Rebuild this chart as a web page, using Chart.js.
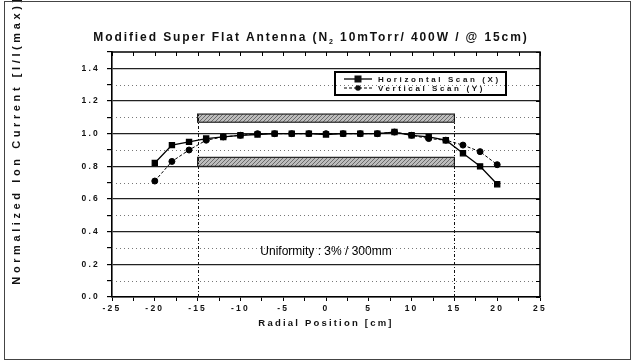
<!DOCTYPE html>
<html>
<head>
<meta charset="utf-8">
<script src="https://cdn.jsdelivr.net/npm/chart.js@4.4.1/dist/chart.umd.min.js"></script>
<style>
  html, body { margin: 0; padding: 0; background: #fff; }
  #wrap { width: 632px; height: 361px; position: relative; }
</style>
</head>
<body>
<div id="wrap"><canvas id="profileChart"></canvas></div>
<script>
// Radial positions of the probe [cm]
const radialPos = [-20, -18, -16, -14, -12, -10, -8, -6, -4, -2, 0, 2, 4, 6, 8, 10, 12, 14, 16, 18, 20];

// Normalized ion current I/I(max)
const horizontalScan = [0.82, 0.93, 0.95, 0.97, 0.98, 0.99, 0.995, 1.0, 1.0, 1.0, 0.995, 1.0, 1.0, 1.0, 1.01, 0.99, 0.98, 0.96, 0.88, 0.80, 0.69];
const verticalScan   = [0.71, 0.83, 0.90, 0.96, 0.98, 0.99, 1.0, 1.0, 1.0, 1.0, 1.0, 1.0, 1.0, 1.0, 1.01, 0.99, 0.97, 0.96, 0.93, 0.89, 0.81];

// Shaded bands and marker lines (wafer edge at +/-15 cm)
const bandX     = [-15, 15];
const upperBand = [1.07, 1.12];
const lowerBand = [0.80, 0.855];
const edgeLines = [-15, 15];

const seriesLabels = ['Horizontal Scan (X)', 'Vertical Scan (Y)'];
const titleParts   = ['Modified Super Flat Antenna (N', '2', ' 10mTorr/ 400W / @ 15cm)'];
const xTitle       = 'Radial Position [cm]';
const yTitle       = 'Normalized Ion Current [I/I(max)]';
const noteText     = 'Uniformity : 3% / 300mm';
const notePos      = [0, 0.28];

const FONT = 'Arial, "Liberation Sans", sans-serif';

function isMajorY(v) {
  return Math.round(v * 10) % 2 === 0;
}

/**
 * decor — grid dots, bands, edge lines, legend box and text.
 */
const decor = {
  id: 'decor',
  beforeDraw(chart) {
    const ctx = chart.ctx;
    ctx.save();
    ctx.fillStyle = '#fff';
    ctx.fillRect(0, 0, chart.width, chart.height);
    ctx.restore();
    ctx.letterSpacing = '2.2px';
  },
  beforeDatasetsDraw(chart) {
    const { ctx, chartArea: a, scales: { x, y } } = chart;
    ctx.save();

    // minor dotted grid
    ctx.strokeStyle = '#777';
    ctx.lineWidth = 1;
    ctx.setLineDash([1, 3]);
    y.ticks.forEach(t => {
      if (isMajorY(t.value) || t.value >= y.max) return;
      const py = Math.round(y.getPixelForValue(t.value)) + 0.5;
      ctx.beginPath();
      ctx.moveTo(a.left, py);
      ctx.lineTo(a.right, py);
      ctx.stroke();
    });

    // hatched bands
    const pc = document.createElement('canvas');
    pc.width = 4; pc.height = 4;
    const p = pc.getContext('2d');
    p.fillStyle = '#bdbdbd'; p.fillRect(0, 0, 4, 4);
    p.fillStyle = '#6a6a6a';
    p.fillRect(0, 0, 1, 1); p.fillRect(2, 2, 1, 1); p.fillRect(1, 3, 1, 1); p.fillRect(3, 1, 1, 1);
    const pattern = ctx.createPattern(pc, 'repeat');
    ctx.setLineDash([]);
    [upperBand, lowerBand].forEach(b => {
      const x0 = x.getPixelForValue(bandX[0]);
      const x1 = x.getPixelForValue(bandX[1]);
      const y0 = y.getPixelForValue(b[1]);
      const y1 = y.getPixelForValue(b[0]);
      ctx.fillStyle = pattern;
      ctx.fillRect(x0, y0, x1 - x0, y1 - y0);
      ctx.strokeStyle = '#222';
      ctx.lineWidth = 1.2;
      ctx.strokeRect(x0, y0, x1 - x0, y1 - y0);
    });

    // dashed edge lines
    ctx.strokeStyle = '#111';
    ctx.lineWidth = 1;
    ctx.setLineDash([3, 2, 1, 2]);
    edgeLines.forEach(v => {
      const px = Math.round(x.getPixelForValue(v)) + 0.5;
      ctx.beginPath();
      ctx.moveTo(px, a.bottom);
      ctx.lineTo(px, y.getPixelForValue(upperBand[1]));
      ctx.stroke();
    });
    ctx.restore();
  },
  afterDraw(chart) {
    const { ctx, chartArea: a, scales: { x, y } } = chart;
    ctx.save();

    // top / right frame with inward ticks
    ctx.setLineDash([]);
    ctx.strokeStyle = '#000';
    ctx.lineWidth = 1.6;
    ctx.beginPath();
    ctx.moveTo(a.left, a.top); ctx.lineTo(a.right, a.top); ctx.lineTo(a.right, a.bottom);
    ctx.stroke();
    ctx.lineWidth = 1;
    x.ticks.forEach(t => {
      const px = Math.round(x.getPixelForValue(t.value)) + 0.5;
      ctx.beginPath(); ctx.moveTo(px, a.top); ctx.lineTo(px, a.top + 4); ctx.stroke();
    });
    y.ticks.forEach(t => {
      const py = Math.round(y.getPixelForValue(t.value)) + 0.5;
      ctx.beginPath(); ctx.moveTo(a.right, py); ctx.lineTo(a.right - 4, py); ctx.stroke();
    });

    ctx.fillStyle = '#111';
    ctx.textBaseline = 'alphabetic';

    // chart title with subscript
    ctx.letterSpacing = '1.9px';
    const big = 'bold 12px ' + FONT;
    const sub = 'bold 7px ' + FONT;
    ctx.font = big;
    const w0 = ctx.measureText(titleParts[0]).width;
    const w2 = ctx.measureText(titleParts[2]).width;
    ctx.font = sub;
    const w1 = ctx.measureText(titleParts[1]).width;
    let tx = 311 - (w0 + w1 + w2) / 2;
    const ty = 41;
    ctx.textAlign = 'left';
    ctx.font = big;
    ctx.fillText(titleParts[0], tx, ty); tx += w0;
    ctx.font = sub;
    ctx.fillText(titleParts[1], tx, ty + 3); tx += w1;
    ctx.font = big;
    ctx.fillText(titleParts[2], tx, ty);

    // y axis title
    ctx.save();
    ctx.translate(20, 140);
    ctx.rotate(-Math.PI / 2);
    ctx.textAlign = 'center';
    ctx.letterSpacing = '3.6px';
    ctx.font = 'bold 11px ' + FONT;
    ctx.fillText(yTitle, 0, 0);
    ctx.restore();

    // annotation
    ctx.letterSpacing = '0px';
    ctx.fillStyle = '#000';
    ctx.font = '12px ' + FONT;
    ctx.textAlign = 'center';
    ctx.textBaseline = 'middle';
    ctx.fillText(noteText, x.getPixelForValue(notePos[0]), y.getPixelForValue(notePos[1]));

    // legend box
    const lx = a.left + 223, ly = a.top + 20, lw = 171, lh = 23;
    ctx.strokeStyle = '#000';
    ctx.lineWidth = 2;
    ctx.strokeRect(lx, ly, lw, lh);
    ctx.letterSpacing = '2.6px';
    ctx.font = 'bold 8px ' + FONT;
    ctx.textAlign = 'left';
    ctx.fillStyle = '#111';
    chart.data.datasets.forEach((ds, i) => {
      const ry = ly + 7 + i * 9;
      ctx.strokeStyle = '#000';
      ctx.lineWidth = ds.borderWidth;
      ctx.setLineDash(ds.borderDash || []);
      ctx.beginPath(); ctx.moveTo(lx + 9, ry); ctx.lineTo(lx + 37, ry); ctx.stroke();
      ctx.setLineDash([]);
      if (ds.pointStyle === 'rect') {
        ctx.fillRect(lx + 23 - 3.5, ry - 3.5, 7, 7);
      } else {
        ctx.beginPath(); ctx.arc(lx + 23, ry, 2.8, 0, Math.PI * 2); ctx.fill();
      }
      ctx.fillText(ds.label, lx + 43, ry + 0.5);
    });

    // outer frame of the figure
    ctx.strokeStyle = '#444';
    ctx.lineWidth = 1;
    ctx.strokeRect(4.5, 1.5, 626, 358);
    ctx.restore();
  }
};

const ctx = document.getElementById('profileChart').getContext('2d');

new Chart(ctx, {
  type: 'line',
  data: {
    labels: radialPos,
    datasets: [
      {
        label: seriesLabels[0],
        data: radialPos.map((r, i) => ({ x: r, y: horizontalScan[i] })),
        borderColor: '#000',
        backgroundColor: '#000',
        borderWidth: 1.3,
        pointStyle: 'rect',
        pointRadius: 3.6,
        tension: 0
      },
      {
        label: seriesLabels[1],
        data: radialPos.map((r, i) => ({ x: r, y: verticalScan[i] })),
        borderColor: '#000',
        backgroundColor: '#000',
        borderWidth: 1,
        borderDash: [3, 2],
        pointStyle: 'circle',
        pointRadius: 3,
        tension: 0
      }
    ]
  },
  plugins: [decor],
  options: {
    responsive: true,
    maintainAspectRatio: false,
    animation: false,
    devicePixelRatio: 1,
    layout: { padding: { top: 52, left: 0, right: 92, bottom: 28 } },
    plugins: {
      legend: { display: false },
      tooltip: { enabled: false },
      title: { display: false }
    },
    scales: {
      x: {
        type: 'linear',
        min: -25,
        max: 25,
        afterFit: s => { s.height = 36; },
        afterBuildTicks: s => {
          const t = [];
          for (let v = -25; v <= 25; v += 2.5) t.push({ value: v });
          s.ticks = t;
        },
        ticks: {
          autoSkip: false,
          maxRotation: 0,
          color: '#111',
          padding: 3,
          font: { family: FONT, size: 8.5, weight: 'bold' },
          callback: v => (v % 5 === 0 ? String(v) : '')
        },
        grid: { drawOnChartArea: false, tickLength: 4, tickColor: '#000' },
        border: { color: '#000', width: 1.6 },
        title: {
          display: true,
          text: xTitle,
          color: '#111',
          padding: { top: 0, bottom: 4 },
          font: { family: FONT, size: 9.5, weight: 'bold' }
        }
      },
      y: {
        min: 0,
        max: 1.5,
        afterFit: s => { s.width = 112; },
        afterBuildTicks: s => {
          const t = [];
          for (let k = 0; k <= 15; k++) t.push({ value: k / 10 });
          s.ticks = t;
        },
        ticks: {
          autoSkip: false,
          color: '#111',
          padding: 7,
          font: { family: FONT, size: 8.5, weight: 'bold' },
          callback: v => (isMajorY(v) ? v.toFixed(1) : '')
        },
        grid: {
          color: c => (c.tick && isMajorY(c.tick.value) ? '#222' : 'rgba(0,0,0,0)'),
          lineWidth: 1.2,
          tickLength: 5,
          tickColor: '#000'
        },
        border: { color: '#000', width: 1.6 }
      }
    }
  }
});
</script>
</body>
</html>
